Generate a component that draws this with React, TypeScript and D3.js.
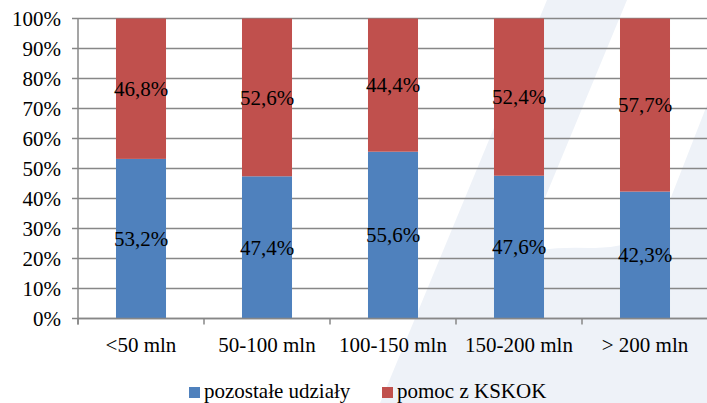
import React from "react";
import * as d3 from "d3";

const categories = ["<50 mln", "50-100 mln", "100-150 mln", "150-200 mln", "> 200 mln"];
const seriesNames = ["pozostałe udziały", "pomoc z KSKOK"];
const pozostale = [53.2, 47.4, 55.6, 47.6, 42.3];
const pomoc = [46.8, 52.6, 44.4, 52.4, 57.7];
const yTicks = [0, 10, 20, 30, 40, 50, 60, 70, 80, 90, 100];
const colors = ["#4F81BD", "#C0504D"];

const W = 707;
const H = 403;
const FONT = "Liberation Serif";

export default function App() {
  const x = d3.scaleBand<string>().domain(categories).range([78, 708]).padding(0);
  const y = d3.scaleLinear().domain([0, 100]).range([318.5, 18.5]);
  const bw = x.bandwidth();
  const barW = bw * 0.397;
  const fmt = (v: number) => v.toFixed(1).replace(".", ",") + "%";

  const stacked = categories.map((c, i) => {
    const a = pozostale[i];
    const b = pomoc[i];
    return [
      { c, y0: 0, y1: a, v: a, color: colors[0] },
      { c, y0: a, y1: a + b, v: b, color: colors[1] },
    ];
  });

  const gridColor = "#878787";
  const ts: React.CSSProperties = { fontFamily: FONT, fontSize: "21px" };

  return (
    <svg
      width={W}
      height={H}
      style={{ position: "absolute", left: 0, top: 0, background: "#fff" }}
    >
      <rect x={0} y={0} width={W} height={H} fill="#fff" />
      {/* faint watermark */}
      <g fill="#EEF2F8">
        <path d="M547,0 L627,0 L460,403 L380,403 Z" />
        <path d="M440,403 L515,258 Q535,246 590,248 Q650,250 668,205 L707,105 L707,403 Z" />
      </g>

      {/* gridlines */}
      {yTicks.map((t) => (
        <line key={t} x1={72} x2={708} y1={y(t)} y2={y(t)} stroke={gridColor} strokeWidth={1.5} />
      ))}
      {/* y axis */}
      <line x1={78} x2={78} y1={y(100)} y2={y(0) + 6} stroke={gridColor} strokeWidth={1.5} />
      {/* x ticks */}
      {[...categories.map((c) => x(c) as number), 708].map((v, i) => (
        <line key={i} x1={v} x2={v} y1={y(0)} y2={y(0) + 6} stroke={gridColor} strokeWidth={1.5} />
      ))}

      {/* bars */}
      {stacked.map((segs, i) =>
        segs.map((s, j) => (
          <rect
            key={i + "-" + j}
            x={(x(s.c) as number) + (bw - barW) / 2}
            y={y(s.y1)}
            width={barW}
            height={y(s.y0) - y(s.y1)}
            fill={s.color}
          />
        ))
      )}
      {/* axis line on top */}
      <line x1={78} x2={708} y1={y(0)} y2={y(0)} stroke={gridColor} strokeWidth={1.5} />

      {/* data labels */}
      {stacked.map((segs, i) =>
        segs.map((s, j) => (
          <text
            key={"l" + i + "-" + j}
            x={(x(s.c) as number) + bw / 2}
            y={y((s.y0 + s.y1) / 2)}
            dy="0.35em"
            textAnchor="middle"
            style={ts}
            fill="#000"
          >
            {fmt(s.v)}
          </text>
        ))
      )}

      {/* y tick labels */}
      {yTicks.map((t) => (
        <text key={"yt" + t} x={61} y={y(t)} dy="0.35em" textAnchor="end" style={ts} fill="#000">
          {t + "%"}
        </text>
      ))}

      {/* x labels */}
      {categories.map((c) => (
        <text
          key={"xl" + c}
          x={(x(c) as number) + bw / 2}
          y={352}
          textAnchor="middle"
          style={ts}
          fill="#000"
        >
          {c}
        </text>
      ))}

      {/* legend */}
      <rect x={189} y={387} width={11} height={11} fill={colors[0]} />
      <text x={204} y={398} style={ts} fill="#000">{seriesNames[0]}</text>
      <rect x={382} y={387} width={11} height={11} fill={colors[1]} />
      <text x={397} y={398} style={ts} fill="#000">{seriesNames[1]}</text>
    </svg>
  );
}
